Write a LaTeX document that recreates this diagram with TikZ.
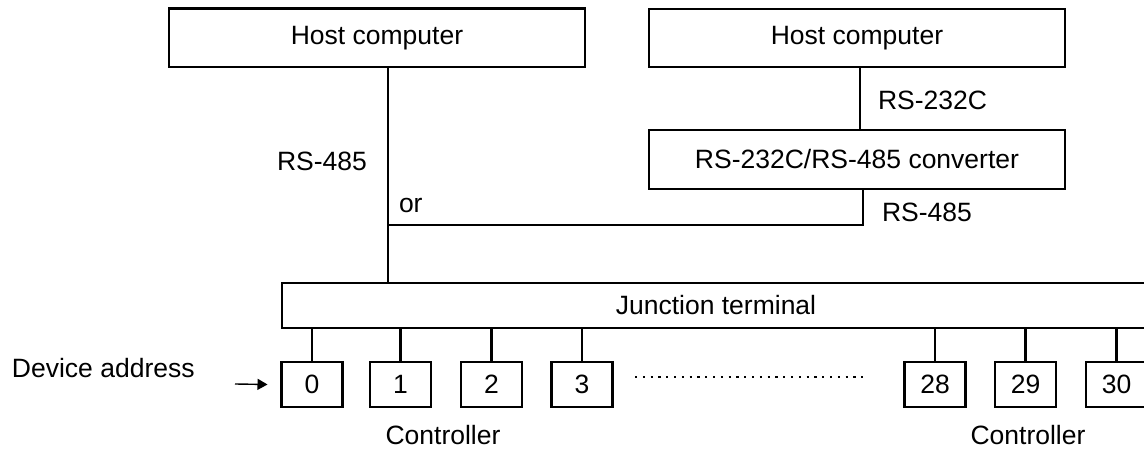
\documentclass[tikz,border=0pt]{standalone}
\usepackage{fontspec}
\setmainfont{Liberation Sans}
\usetikzlibrary{arrows.meta}
\begin{document}
\begin{tikzpicture}[x=1pt,y=-1pt,
  txt/.style={font=\fontsize{26.5}{30}\selectfont, inner sep=0pt, outer sep=0pt},
  box/.style={txt, draw, line width=2.3pt, minimum height=#1},
  box/.default=58.5pt,
  ctl/.style={txt, draw, line width=2.3pt, minimum width=61pt, minimum height=45pt},
  wire/.style={line width=2.3pt},
  dotline/.style={line width=2pt, dash pattern=on 2.2pt off 5.6pt},
  pointer/.style={line width=1.4pt, -{Triangle[length=10pt,width=11pt]}}]
\clip (0,0) rectangle (1144,454);
\fill[white] (0,0) rectangle (1144,454);
% host computers and converter
\node[box, minimum width=416pt] (hostL) at (377,37.75) {Host computer};
\node[box, minimum width=416pt] (hostR) at (857,38) {Host computer};
\node[box, minimum width=416pt, minimum height=59pt] (conv) at (857,159.5) {RS-232C/RS-485 converter};
% junction terminal
\node[box=45pt, minimum width=868pt] (junc) at (716,305.5) {Junction terminal};
% controllers
\node[ctl] (b0) at (312,384.5) {0};
\node[ctl] (b1) at (400.5,384.5) {1};
\node[ctl] (b2) at (491.5,384.5) {2};
\node[ctl] (b3) at (582,384.5) {3};
\node[ctl] (b28) at (935,384.5) {28};
\node[ctl] (b29) at (1025.5,384.5) {29};
\node[ctl] (b30) at (1116.5,384.5) {30};
% wiring
\coordinate (lTop) at ([xshift=11pt]hostL.south);
\coordinate (lBot) at (lTop |- junc.north);
\coordinate (merge) at (388,225);
\draw[wire] (lTop) -- (lBot);
\draw[wire] ([xshift=3pt]hostR.south) -- ([xshift=3pt]conv.north);
\draw[wire] ([xshift=6pt]conv.south) |- (merge);
\foreach \b in {b0,b1,b2,b3,b28,b29,b30}{
  \draw[wire] (\b.north) -- (\b.north |- junc.south);
}
\coordinate (dotS) at (635,377);
\coordinate (dotE) at (868,377);
\draw[dotline] (dotS) -- (dotE);
% labels
\node[txt, anchor=west] (l232) at (878,100) {RS-232C};
\node[txt, anchor=west] (r485) at (882,212.5) {RS-485};
\node[txt, anchor=west] (l485) at (277,161.5) {RS-485};
\node[txt, anchor=base west] (or) at (399,213) {or};
\node[txt, anchor=base west] (dev) at (12,378) {Device address};
\node[txt, anchor=base] (c1) at (443,445) {Controller};
\node[txt, anchor=base] (c2) at (1028,445) {Controller};
\coordinate (arrS) at (235,384);
\draw[pointer] (arrS) -- ([xshift=-14pt]b0.west);
\end{tikzpicture}
\end{document}
